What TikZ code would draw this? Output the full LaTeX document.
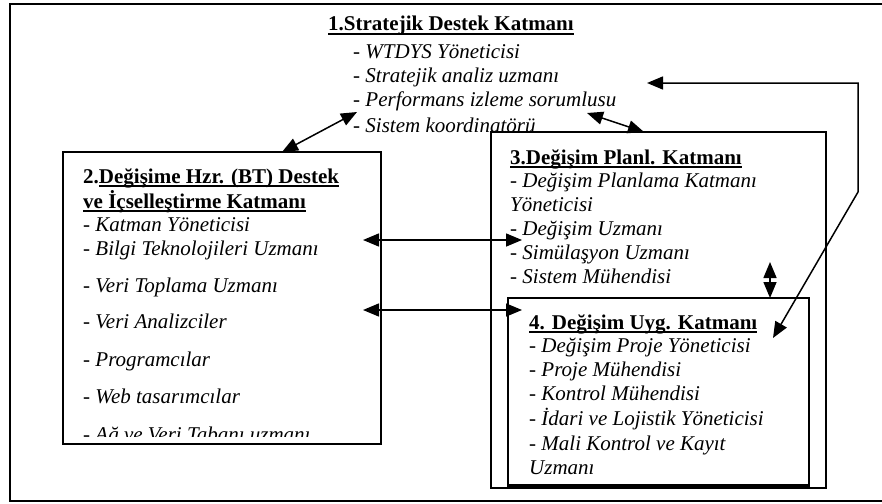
\documentclass[tikz,border=0pt]{standalone}
\usepackage{fontspec}
\setmainfont{Liberation Serif}
\usetikzlibrary{arrows.meta}
\newcommand\myitem[1]{- \textit{#1}}
\newcommand\myul[1]{\leavevmode\setbox0\hbox{#1}\rlap{\raisebox{-3.6pt}{\rule{\wd0}{1.6pt}}}\box0}
\begin{document}
\begin{tikzpicture}[x=1pt,y=-1pt,
  txt/.style={anchor=base west, inner sep=0pt, font=\fontsize{21}{24}\selectfont},
  ttl/.style={txt, font=\fontsize{21}{24}\selectfont\bfseries},
  box/.style={draw, line width=1.5pt, fill=white, anchor=north west, inner sep=0pt, outer sep=0pt},
  arr/.style={line width=1.5pt, {Triangle[length=16pt,width=13pt]}-{Triangle[length=16pt,width=13pt]}},
]
\clip (0,0) rectangle (882,503);
\node[draw, line width=2.4pt, anchor=north west, inner sep=0pt, minimum width=900pt, minimum height=497pt] (outer) at (9,3) {};

% layer 1
\node[ttl] (t1) at (328,31) {\myul{1.Stratejik Destek Katmanı}};
\node[txt] (t1a) at (353,58) {\myitem{WTDYS Yöneticisi}};
\node[txt] (t1b) at (353,82) {\myitem{Stratejik analiz uzmanı}};
\node[txt] (t1c) at (353,106) {\myitem{Performans izleme sorumlusu}};
\node[txt] (t1d) at (353,132) {\myitem{Sistem koordinatörü}};

% layer 2
\node[box, minimum width=318pt, minimum height=292pt] (b2) at (63,152) {};
\node[ttl] (t2) at (83,183) {2.\myul{Değişime Hzr. (BT) Destek}};
\node[ttl] (t2b) at (83,208) {\myul{ve İçselleştirme Katmanı}};
\node[txt] (t2c) at (83,231) {\myitem{Katman Yöneticisi}};
\node[txt] (t2d) at (83,255) {\myitem{Bilgi Teknolojileri Uzmanı}};
\node[txt] (t2e) at (83,292) {\myitem{Veri Toplama Uzmanı}};
\node[txt] (t2f) at (83,328) {\myitem{Veri Analizciler}};
\node[txt] (t2g) at (83,366) {\myitem{Programcılar}};
\node[txt] (t2h) at (83,403) {\myitem{Web tasarımcılar}};
\begin{scope}
\clip (63,152) rectangle (381,436);
\node[txt] (t2i) at (83,441) {\myitem{Ağ ve Veri Tabanı uzmanı}};
\end{scope}

% layer 3
\node[box, minimum width=335pt, minimum height=356pt] (b3) at (491,132) {};
\node[ttl] (t3) at (510,164) {\myul{3.Değişim Planl. Katmanı}};
\node[txt] (t3a) at (510,187) {\myitem{Değişim Planlama Katmanı}};
\node[txt] (t3b) at (510,211) {\textit{Yöneticisi}};
\node[txt] (t3c) at (510,235) {\myitem{Değişim Uzmanı}};
\node[txt] (t3d) at (510,259) {\myitem{Simülaşyon Uzmanı}};
\node[txt] (t3e) at (510,283) {\myitem{Sistem Mühendisi}};

% layer 4
\node[box, line width=1.8pt, minimum width=301pt, minimum height=188pt] (b4) at (508,298) {};
\draw[line width=3.2pt] (b4.south west) -- (b4.south east);
\node[ttl] (t4) at (529,329) {\myul{4. Değişim Uyg. Katmanı}};
\node[txt] (t4a) at (529,352) {\myitem{Değişim Proje Yöneticisi}};
\node[txt] (t4b) at (529,376) {\myitem{Proje Mühendisi}};
\node[txt] (t4c) at (529,400) {\myitem{Kontrol Mühendisi}};
\node[txt] (t4d) at (529,425) {\myitem{İdari ve Lojistik Yöneticisi}};
\node[txt] (t4e) at (529,450) {\myitem{Mali Kontrol ve Kayıt}};
\node[txt] (t4f) at (529,474) {\textit{Uzmanı}};

% connector end points
\coordinate (c12a) at (282,152);
\coordinate (c12b) at (357,112);
\coordinate (c13a) at (587,113);
\coordinate (c13b) at (644,132);
\coordinate (c14a) at (647,83);
\coordinate (c14b) at (858,83);
\coordinate (c14c) at (858,192);
\coordinate (c14d) at (773,338);
\coordinate (c23a) at (363,240);
\coordinate (c23b) at (522,240);
\coordinate (c24a) at (363,310);
\coordinate (c24b) at (522,310);
\coordinate (c34a) at (770,262);
\coordinate (c34b) at (770,298);

\draw[arr] (c12a) -- (c12b);
\draw[arr] (c13a) -- (c13b);
\draw[arr] (c14a) -- (c14b) -- (c14c) -- (c14d);
\draw[arr] (c23a) -- (c23b);
\draw[arr] (c24a) -- (c24b);
\draw[arr] (c34a) -- (c34b);
\end{tikzpicture}
\end{document}
